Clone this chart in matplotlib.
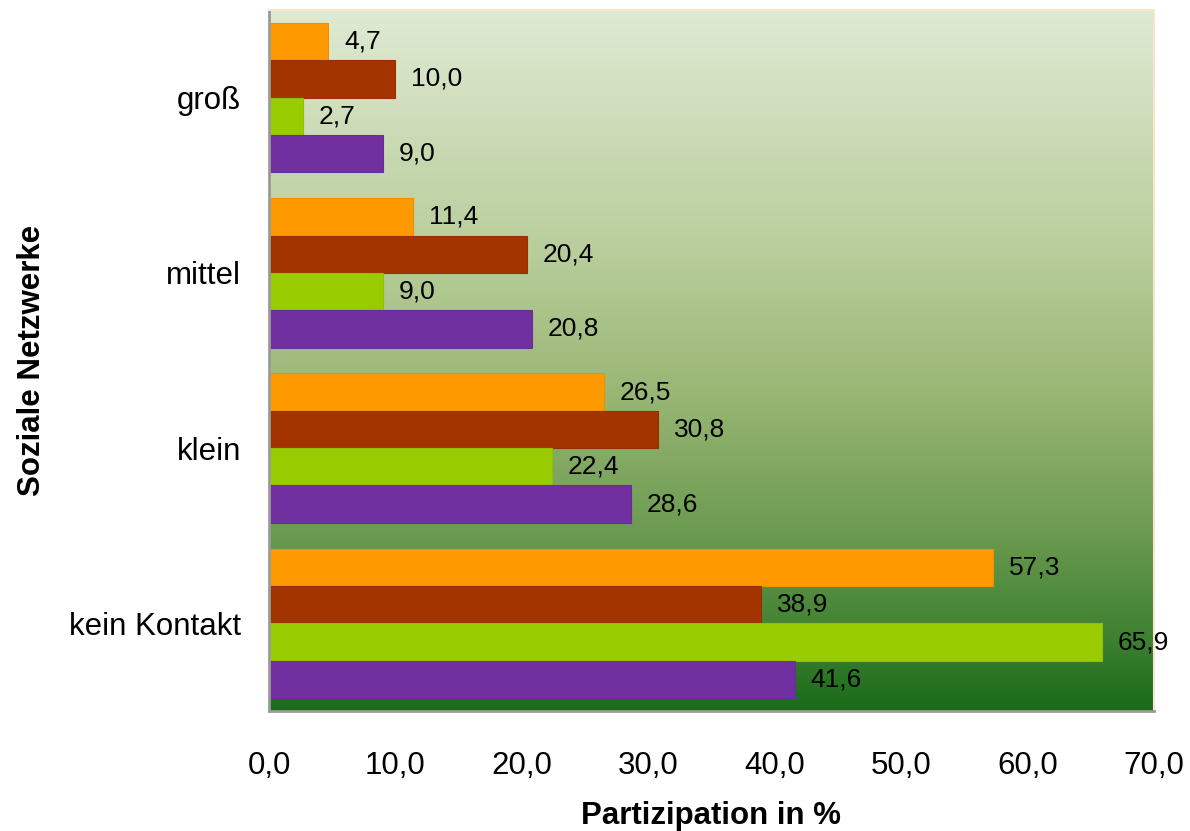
import numpy as np
import matplotlib
matplotlib.use("Agg")
import matplotlib.pyplot as plt
from matplotlib.colors import LinearSegmentedColormap

plt.rcParams['font.family'] = ['Liberation Sans', 'DejaVu Sans']

# data (bottom to top on the y axis)
categories = ['kein Kontakt', 'klein', 'mittel', 'groß']
series_orange = [57.3, 26.5, 11.4, 4.7]
series_brown = [38.9, 30.8, 20.4, 10.0]
series_lime = [65.9, 22.4, 9.0, 2.7]
series_purple = [41.6, 28.6, 20.8, 9.0]
xticks = [0, 10, 20, 30, 40, 50, 60, 70]

series = [series_orange, series_brown, series_lime, series_purple]
colors = ['#FF9900', '#A33400', '#99CC00', '#7030A0']
edges = ['#F09000', '#963000', '#90C000', '#6A2E98']

fig = plt.figure(figsize=(11.9, 8.31), dpi=100)
ax = fig.add_axes([0.226, 0.1444, 0.7437, 0.8436])

# background gradient
grad = LinearSegmentedColormap.from_list('bg', [
    (0.0, '#1A6B1A'), (0.1, '#3D8030'), (0.25, '#6A9A50'),
    (0.45, '#99B674'), (0.65, '#B8CD9A'), (1.0, '#DFEAD3')])
ax.imshow(np.linspace(0, 1, 256).reshape(-1, 1), cmap=grad, origin='lower',
          extent=[0, 1, 0, 1], transform=ax.transAxes, aspect='auto', zorder=0)

y = np.arange(len(categories))
h = 0.213
offsets = [1.5, 0.5, -0.5, -1.5]
for vals, c, ec, off in zip(series, colors, edges, offsets):
    bars = ax.barh(y + off * h, vals, height=h, color=c, edgecolor=ec,
                   linewidth=0.8, zorder=2)
    for b, v in zip(bars, vals):
        ax.annotate(f'{v:.1f}'.replace('.', ','),
                    (b.get_width(), b.get_y() + b.get_height() / 2),
                    xytext=(11.5, 0), textcoords='offset points',
                    va='center', ha='left', fontsize=19, zorder=3)

ax.set_xlim(0, 70)
ax.set_ylim(-0.5, 3.5)
ax.set_xticks(xticks)
ax.set_xticklabels([f'{t:.1f}'.replace('.', ',') for t in xticks], fontsize=22.5)
ax.set_yticks(y)
ax.set_yticklabels(categories, fontsize=22.5)
ax.tick_params(axis='x', length=0, pad=29)
ax.tick_params(axis='y', length=0, pad=20)

ax.set_xlabel('Partizipation in %', fontsize=22.5, fontweight='bold', labelpad=14)
ax.set_ylabel('Soziale Netzwerke', fontsize=22.5, fontweight='bold', labelpad=16)

for s in ['left', 'bottom']:
    ax.spines[s].set_color('#9A9A9A')
    ax.spines[s].set_linewidth(2)
for s in ['top', 'right']:
    ax.spines[s].set_color('#F5E6CC')
    ax.spines[s].set_linewidth(1.5)

fig.savefig('out.png', dpi=100)
